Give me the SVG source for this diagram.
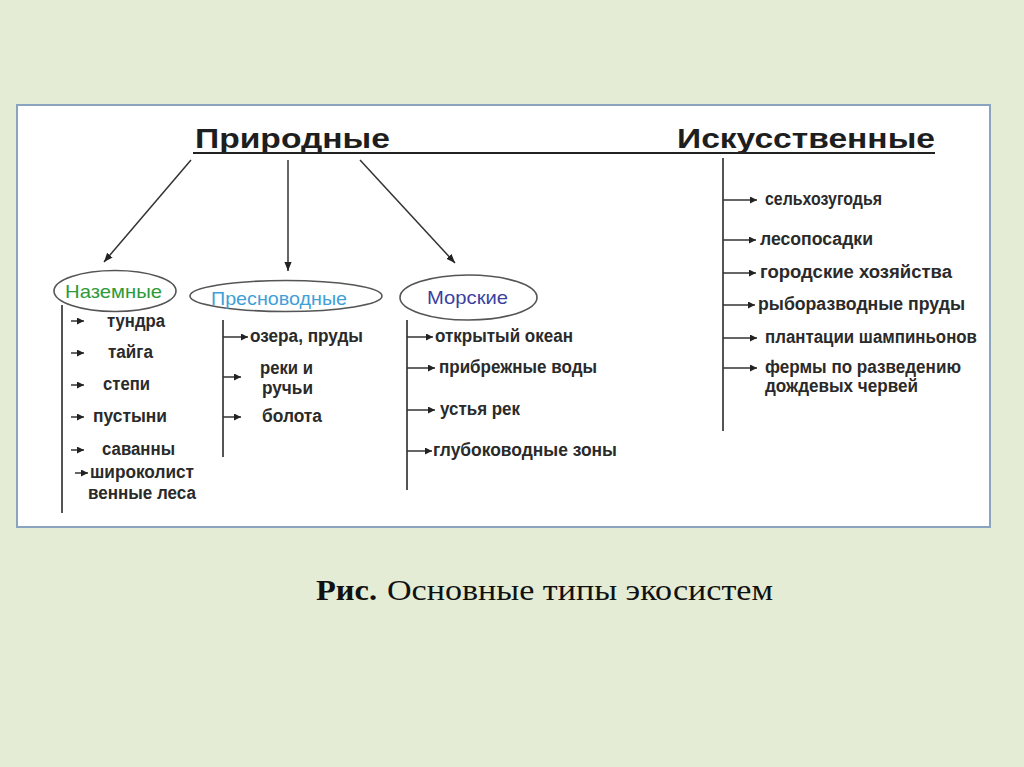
<svg xmlns="http://www.w3.org/2000/svg" width="1024" height="767" viewBox="0 0 1024 767">
<style>
.t{font-family:"Liberation Sans",Arial,sans-serif;font-weight:bold;font-size:18px;fill:#2a2a2a}
.h{font-family:"Liberation Sans",Arial,sans-serif;font-weight:bold;font-size:28px;fill:#1e1e1e}
.e{font-family:"Liberation Sans",Arial,sans-serif;font-size:19px}
.c{stroke:#333;stroke-width:1.5;fill:none}
.v{stroke:#555;stroke-width:2;fill:none}
.el{fill:none;stroke:#555;stroke-width:1.6}
.cap{font-family:"Liberation Serif","Times New Roman",serif;font-size:30px;fill:#111}
</style>
<defs>
<marker id="ah" viewBox="0 0 10 10" refX="10" refY="5" markerWidth="7" markerHeight="7" markerUnits="userSpaceOnUse" orient="auto">
<path d="M0,0 L10,5 L0,10 Z" fill="#222"/>
</marker>
<marker id="big" viewBox="0 0 10 10" refX="10" refY="5" markerWidth="9" markerHeight="9" markerUnits="userSpaceOnUse" orient="auto">
<path d="M0,1 L10,5 L0,9 Z" fill="#222"/>
</marker>
</defs>
<rect x="0" y="0" width="1024" height="767" fill="#e4ecd6"/>
<rect x="17" y="105" width="973" height="422" fill="#ffffff" stroke="#8aa4bf" stroke-width="2"/>

<g id="title-natural">
<text class="h" x="195" y="148" textLength="195" lengthAdjust="spacingAndGlyphs">Природные</text>
</g>
<g id="title-artificial">
<text class="h" x="677" y="148" textLength="258" lengthAdjust="spacingAndGlyphs">Искусственные</text>
</g>

<g id="connectors">
<line x1="193" y1="153" x2="935" y2="153" stroke="#222" stroke-width="2"/>
<line class="c" x1="191" y1="160" x2="104" y2="262" marker-end="url(#big)"/>
<line class="c" x1="288" y1="160" x2="288" y2="271" marker-end="url(#big)"/>
<line class="c" x1="360" y1="160" x2="455" y2="263" marker-end="url(#big)"/>

<line class="v" x1="62" y1="305" x2="62" y2="513"/>
<line class="c" x1="71" y1="321" x2="84" y2="321" marker-end="url(#ah)"/>
<line class="c" x1="71" y1="353" x2="84" y2="353" marker-end="url(#ah)"/>
<line class="c" x1="71" y1="385" x2="84" y2="385" marker-end="url(#ah)"/>
<line class="c" x1="71" y1="417" x2="84" y2="417" marker-end="url(#ah)"/>
<line class="c" x1="71" y1="450" x2="84" y2="450" marker-end="url(#ah)"/>
<line class="c" x1="75" y1="473" x2="88" y2="473" marker-end="url(#ah)"/>

<line class="v" x1="223" y1="320" x2="223" y2="457"/>
<line class="c" x1="223" y1="337" x2="248" y2="337" marker-end="url(#ah)"/>
<line class="c" x1="223" y1="377" x2="241" y2="377" marker-end="url(#ah)"/>
<line class="c" x1="223" y1="417" x2="241" y2="417" marker-end="url(#ah)"/>

<line class="v" x1="407" y1="320" x2="407" y2="490"/>
<line class="c" x1="407" y1="337" x2="433" y2="337" marker-end="url(#ah)"/>
<line class="c" x1="407" y1="368" x2="435" y2="368" marker-end="url(#ah)"/>
<line class="c" x1="407" y1="410" x2="435" y2="410" marker-end="url(#ah)"/>
<line class="c" x1="407" y1="451" x2="432" y2="451" marker-end="url(#ah)"/>

<line class="v" x1="723" y1="158" x2="723" y2="431"/>
<line class="c" x1="723" y1="200" x2="757" y2="200" marker-end="url(#ah)"/>
<line class="c" x1="723" y1="240" x2="756" y2="240" marker-end="url(#ah)"/>
<line class="c" x1="723" y1="273" x2="756" y2="273" marker-end="url(#ah)"/>
<line class="c" x1="723" y1="305" x2="755" y2="305" marker-end="url(#ah)"/>
<line class="c" x1="723" y1="338" x2="757" y2="338" marker-end="url(#ah)"/>
<line class="c" x1="723" y1="368" x2="757" y2="368" marker-end="url(#ah)"/>
</g>

<g id="node-terrestrial">
<ellipse class="el" cx="115" cy="291" rx="61" ry="20.5"/>
<text class="e" x="65" y="298" fill="#2e9a3a" textLength="97" lengthAdjust="spacingAndGlyphs">Наземные</text>
<text class="t" x="107" y="327" textLength="58" lengthAdjust="spacingAndGlyphs">тундра</text>
<text class="t" x="108" y="358" textLength="45" lengthAdjust="spacingAndGlyphs">тайга</text>
<text class="t" x="103" y="390" textLength="47" lengthAdjust="spacingAndGlyphs">степи</text>
<text class="t" x="93" y="422" textLength="74" lengthAdjust="spacingAndGlyphs">пустыни</text>
<text class="t" x="102" y="455" textLength="73" lengthAdjust="spacingAndGlyphs">саванны</text>
<text class="t" x="90" y="478" textLength="104" lengthAdjust="spacingAndGlyphs">широколист</text>
<text class="t" x="88" y="499" textLength="108" lengthAdjust="spacingAndGlyphs">венные леса</text>
</g>

<g id="node-freshwater">
<ellipse class="el" cx="286" cy="296" rx="96" ry="15.5"/>
<text class="e" x="211" y="305" fill="#3fa0d8" textLength="136" lengthAdjust="spacingAndGlyphs">Пресноводные</text>
<text class="t" x="250" y="342" textLength="113" lengthAdjust="spacingAndGlyphs">озера, пруды</text>
<text class="t" x="260" y="374" textLength="53" lengthAdjust="spacingAndGlyphs">реки и</text>
<text class="t" x="262" y="394" textLength="51" lengthAdjust="spacingAndGlyphs">ручьи</text>
<text class="t" x="262" y="422" textLength="60" lengthAdjust="spacingAndGlyphs">болота</text>
</g>

<g id="node-marine">
<ellipse class="el" cx="468.5" cy="297.5" rx="68.5" ry="22.5"/>
<text class="e" x="427" y="304" fill="#3c3f9e" textLength="81" lengthAdjust="spacingAndGlyphs">Морские</text>
<text class="t" x="435" y="342" textLength="138" lengthAdjust="spacingAndGlyphs">открытый океан</text>
<text class="t" x="439" y="373" textLength="158" lengthAdjust="spacingAndGlyphs">прибрежные воды</text>
<text class="t" x="440" y="415" textLength="80" lengthAdjust="spacingAndGlyphs">устья рек</text>
<text class="t" x="433" y="456" textLength="184" lengthAdjust="spacingAndGlyphs">глубоководные зоны</text>
</g>

<g id="node-artificial-items">
<text class="t" x="765" y="205" textLength="117" lengthAdjust="spacingAndGlyphs">сельхозугодья</text>
<text class="t" x="760" y="245" textLength="113" lengthAdjust="spacingAndGlyphs">лесопосадки</text>
<text class="t" x="760" y="278" textLength="192" lengthAdjust="spacingAndGlyphs">городские хозяйства</text>
<text class="t" x="758" y="310" textLength="207" lengthAdjust="spacingAndGlyphs">рыборазводные пруды</text>
<text class="t" x="765" y="343" textLength="212" lengthAdjust="spacingAndGlyphs">плантации шампиньонов</text>
<text class="t" x="765" y="373" textLength="196" lengthAdjust="spacingAndGlyphs">фермы по разведению</text>
<text class="t" x="765" y="392" textLength="153" lengthAdjust="spacingAndGlyphs">дождевых червей</text>
</g>

<g id="caption">
<text class="cap" x="316" y="600" font-weight="bold" textLength="61" lengthAdjust="spacingAndGlyphs">Рис.</text>
<text class="cap" x="387" y="600" textLength="386" lengthAdjust="spacingAndGlyphs">Основные типы экосистем</text>
</g>
</svg>
